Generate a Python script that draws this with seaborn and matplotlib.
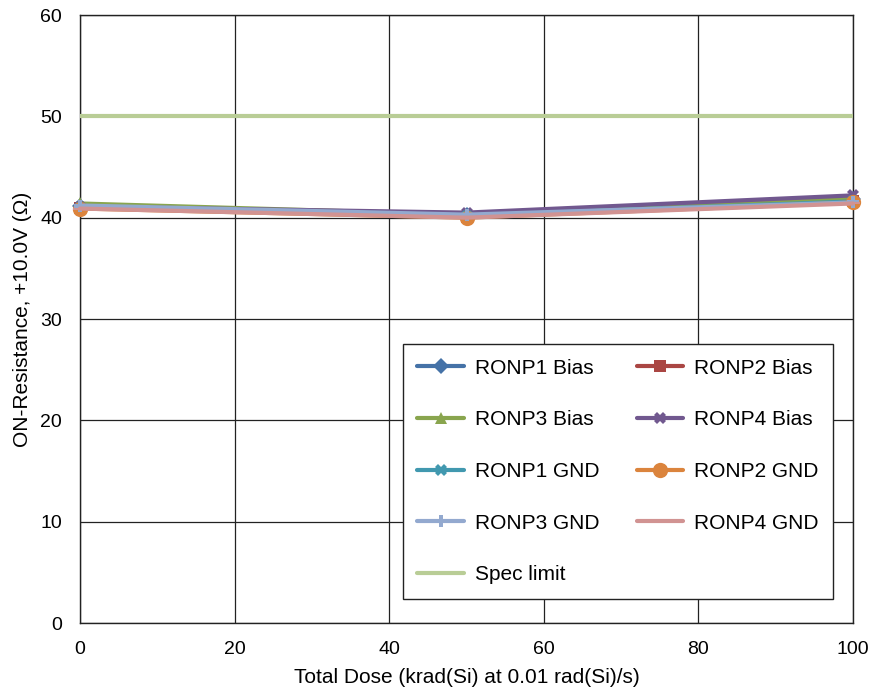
import matplotlib
matplotlib.use("Agg")
import matplotlib.pyplot as plt
import seaborn as sns
import pandas as pd

# total dose points (krad(Si))
dose = [0, 50, 100]

ronp1_bias = [41.2, 40.3, 41.8]
ronp2_bias = [41.0, 40.1, 41.6]
ronp3_bias = [41.4, 40.3, 41.9]
ronp4_bias = [41.1, 40.5, 42.2]
ronp1_gnd = [41.0, 40.2, 41.6]
ronp2_gnd = [40.9, 40.0, 41.5]
ronp3_gnd = [41.2, 40.3, 41.5]
ronp4_gnd = [40.9, 40.0, 41.4]
spec_limit = [50, 50, 50]

series = [
    ("RONP1 Bias", ronp1_bias, "#4572A7", "D", 8),
    ("RONP2 Bias", ronp2_bias, "#AA4643", "s", 9),
    ("RONP3 Bias", ronp3_bias, "#89A54E", "^", 9),
    ("RONP4 Bias", ronp4_bias, "#71588F", "X", 9),
    ("RONP1 GND", ronp1_gnd, "#4198AF", "X", 8),
    ("RONP2 GND", ronp2_gnd, "#DB843D", "o", 11),
    ("RONP3 GND", ronp3_gnd, "#93A9CF", "P", 8),
    ("RONP4 GND", ronp4_gnd, "#D19392", "_", 10),
]

sns.set_style("white")
plt.rcParams["font.family"] = ["Liberation Sans", "DejaVu Sans"]
plt.rcParams["text.color"] = "black"

fig = plt.figure(figsize=(8.74, 6.95), dpi=100)
ax = fig.add_axes([80 / 874, 1 - 623 / 695, 773 / 874, 608 / 695])

for name, vals, color, marker, ms in series:
    df = pd.DataFrame({"dose": dose, "ron": vals})
    sns.lineplot(data=df, x="dose", y="ron", ax=ax, color=color, marker=marker,
                 markersize=ms, linewidth=3, markeredgewidth=1.5 if marker == "_" else 0,
                 markeredgecolor=color, label=name, clip_on=False, zorder=3)

df = pd.DataFrame({"dose": dose, "ron": spec_limit})
sns.lineplot(data=df, x="dose", y="ron", ax=ax, color="#B9CD96", linewidth=3,
             label="Spec limit", zorder=3)

ax.set_xlim(0, 100)
ax.set_ylim(0, 60)
ax.set_xticks(range(0, 101, 20))
ax.set_yticks(range(0, 61, 10))
ax.grid(True, color="#222222", linewidth=0.9)
for s in ax.spines.values():
    s.set_color("#222222")
    s.set_linewidth(1)
ax.tick_params(labelsize=14, length=0, labelcolor="black")
ax.tick_params(axis="x", pad=13)
ax.tick_params(axis="y", pad=13)
ax.set_xlabel("Total Dose (krad(Si) at 0.01 rad(Si)/s)", fontsize=15, color="black", labelpad=7)
ax.set_ylabel("ON-Resistance, +10.0V (\u03a9)", fontsize=15, color="black", labelpad=6)

handles, labels = ax.get_legend_handles_labels()
order = [0, 2, 4, 6, 8, 1, 3, 5, 7]
leg = ax.legend([handles[i] for i in order], [labels[i] for i in order],
                ncol=2, loc="lower right", bbox_to_anchor=(0.974, 0.0395), borderaxespad=0,
                fontsize=15, frameon=True, fancybox=False, edgecolor="#222222",
                framealpha=1, handlelength=2.25, labelspacing=1.57, columnspacing=1.8,
                borderpad=0.7, handletextpad=0.5)
leg.get_frame().set_linewidth(1)

fig.savefig("out.png", dpi=100)
